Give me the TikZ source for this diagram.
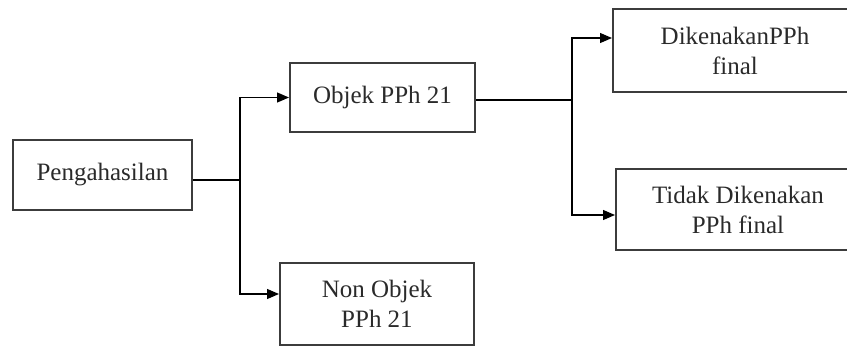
\documentclass[tikz,border=0pt]{standalone}
\usepackage{fontspec}
\setmainfont{Liberation Serif}
\usetikzlibrary{positioning,arrows.meta}
\definecolor{bxFrame}{HTML}{3C3C3C}
\definecolor{bxText}{HTML}{2A2A2A}
\begin{document}
\begin{tikzpicture}[x=1pt,y=-1pt, box/.style={draw=bxFrame,line width=2pt,align=center,text=bxText,font=\fontsize{25}{30}\selectfont,inner sep=0pt}, >={Triangle[length=12pt,width=10pt]}]
\useasboundingbox (0,0) rectangle (847,349);
\clip (0,0) rectangle (847,349);
\node[box,minimum width=179pt,minimum height=70pt] (peng) at (102.5,175) {Pengahasilan};
\node[box,minimum width=185pt,minimum height=69pt] (obj) at (382.5,97.5) {Objek PPh 21};
\node[box,minimum width=194pt,minimum height=82pt] (non) at (377,304) {Non Objek\\PPh 21};
\node[box,minimum width=244pt,minimum height=83pt] (dik) at (735,50.5) {DikenakanPPh\\final};
\node[box,minimum width=244pt,minimum height=81pt] (tdk) at (738,209.5) {Tidak Dikenakan\\PPh final};
\coordinate (j1) at (240,180);
\coordinate (j2) at (572,100);
\draw[line width=1.2pt] ([yshift=-5pt]peng.east)--(j1);
\draw[->,line width=1.2pt] (j1)|-(obj.west);\draw[->,line width=1.2pt] (j1)|-([yshift=10pt]non.west);
\draw[line width=1.2pt] ([yshift=-2.5pt]obj.east)--(j2);
\draw[->,line width=1.2pt] (j2)|-([yshift=12.5pt]dik.west);\draw[->,line width=1.2pt] (j2)|-([yshift=-5.5pt]tdk.west);
\end{tikzpicture}
\end{document}
